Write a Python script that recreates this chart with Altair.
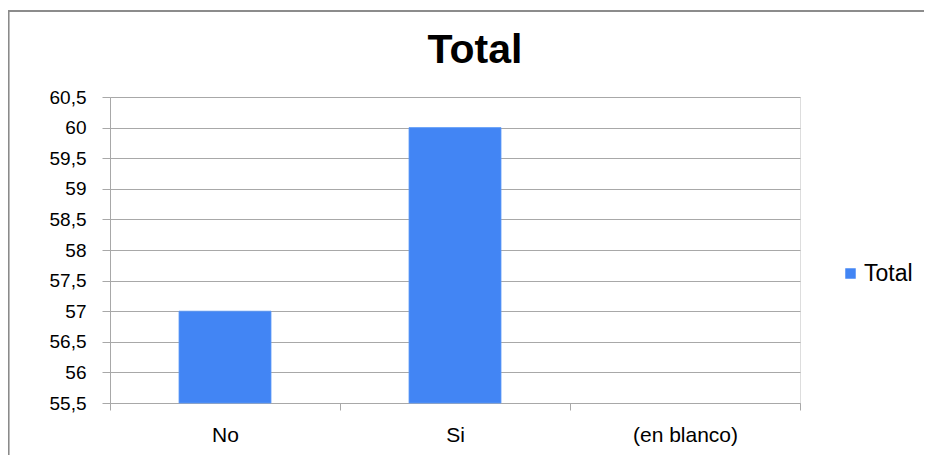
import altair as alt
import pandas as pd

categories = ["No", "Si", "(en blanco)"]
values = [57, 60, None]
series = ["Total", "Total", "Total"]
y_ticks = [55.5, 56, 56.5, 57, 57.5, 58, 58.5, 59, 59.5, 60, 60.5]
y_min, y_max = 55.5, 60.5
chart_title = "Total"

df = pd.DataFrame({"cat": categories, "val": values, "serie": series, "base": [y_min] * 3})

FONT = "Liberation Sans"
GRID = "#a8a8a8"

bars = alt.Chart(df).mark_bar(stroke="#5d9bf7", strokeWidth=0.8,
                              width=alt.RelativeBandSize(0.4)).encode(
    x=alt.X("cat:N", sort=categories,
            scale=alt.Scale(domain=categories, paddingInner=0, paddingOuter=0),
            axis=alt.Axis(title=None, labelAngle=0, labelFontSize=21, labelFont=FONT,
                          labelColor="#000000", domainColor=GRID, tickColor=GRID,
                          tickSize=7, labelPadding=14, tickBand="extent", grid=False)),
    y=alt.Y("val:Q",
            scale=alt.Scale(domain=[y_min, y_max], zero=False, nice=False),
            axis=alt.Axis(title=None, values=y_ticks,
                          labelExpr="replace(format(datum.value, '.1~f'), '.', ',')",
                          labelFontSize=19, labelFont=FONT, labelColor="#000000",
                          domainColor=GRID, tickColor=GRID, tickSize=8, labelPadding=16,
                          gridColor=GRID, gridWidth=1)),
    y2=alt.Y2("base:Q"),
    color=alt.Color("serie:N", scale=alt.Scale(range=["#4285f4"]),
                    legend=alt.Legend(title=None, orient="none", legendX=729, legendY=165,
                                      symbolType="square", symbolSize=110,
                                      symbolStrokeWidth=0, labelFontSize=23,
                                      labelFont=FONT, labelColor="#000000", labelOffset=2)),
)

frame = alt.Chart(df).mark_rect(fillOpacity=0, stroke="#8a8a8a", strokeWidth=1.5,
                                clip=False).encode(
    x=alt.value(-101.5), x2=alt.value(840), y=alt.value(-86), y2=alt.value(380))

title = alt.Chart(pd.DataFrame({"t": [chart_title]})).mark_text(
    font=FONT, fontSize=41, fontWeight="bold", color="#000000",
    align="center", baseline="alphabetic", clip=False).encode(
    text="t:N", x=alt.value(365), y=alt.value(-34))

chart = alt.layer(frame, bars, title).properties(
    width=690, height=306,
    autosize=alt.AutoSizeParams(type="none"),
    padding={"left": 102, "top": 89, "right": 124, "bottom": 52},
).configure_view(stroke=None).configure(background="#ffffff")

chart.save("out.html", embed_options={"renderer": "svg", "actions": False})
